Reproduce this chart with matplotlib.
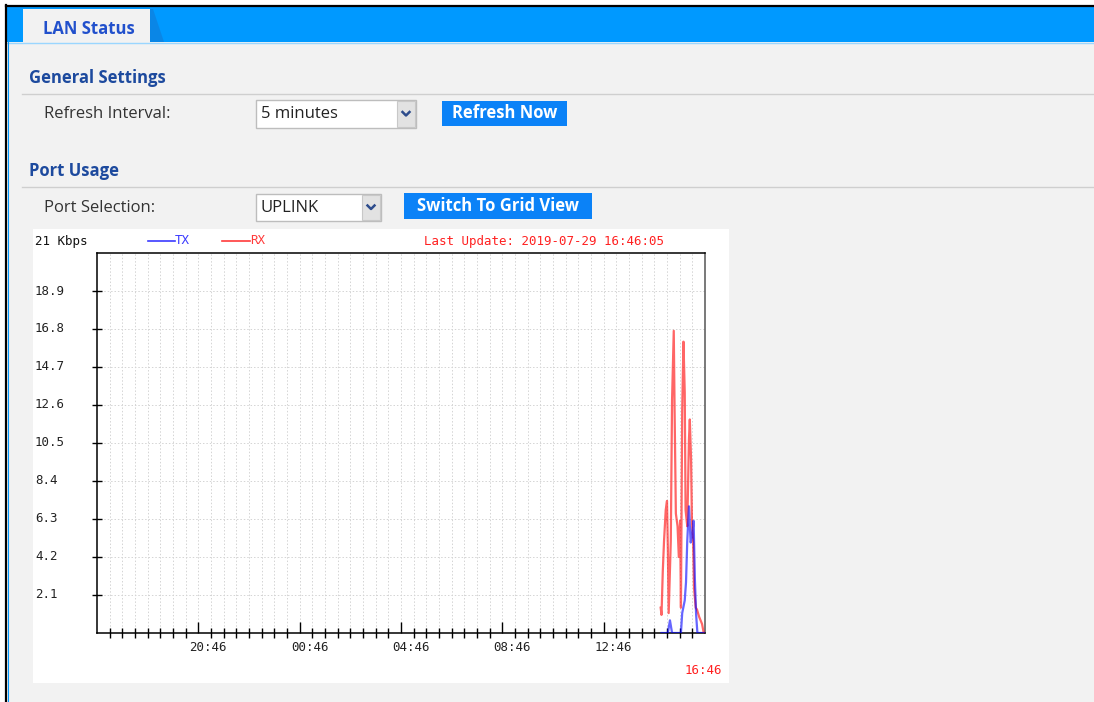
import matplotlib.pyplot as plt
from matplotlib.patches import Rectangle, Polygon
from matplotlib.transforms import ScaledTranslation, blended_transform_factory

# port usage samples: minutes after 16:46 on 2019-07-28, values in Kbps
rx_minutes = [1335, 1337, 1340, 1343, 1347, 1350, 1352, 1354, 1359, 1362,
              1366, 1368, 1371, 1375, 1378, 1381, 1383, 1386, 1389, 1392,
              1394, 1398, 1402, 1404, 1407, 1409, 1412, 1414, 1418, 1421,
              1426, 1433, 1437]
rx_kbps = [1.4, 1.0, 3.4, 5.1, 6.8, 7.3, 4.7, 1.1, 5.1, 12.9,
           16.7, 12.3, 6.6, 5.9, 4.2, 6.2, 1.4, 12.3, 16.1, 13.3,
           6.8, 5.9, 10.7, 11.8, 9.6, 6.2, 5.0, 2.5, 1.4, 1.3,
           0.9, 0.5, 0.0]

tx_minutes = [1337, 1352, 1357, 1362, 1383, 1386, 1392, 1395, 1398, 1402,
              1406, 1409, 1413, 1416, 1419, 1422, 1437]
tx_kbps = [0, 0, 0.7, 0, 0, 1.1, 1.8, 2.8, 5.1, 7.0,
           5.0, 5.3, 6.2, 3.0, 1.0, 0, 0]

y_ticks = [2.1, 4.2, 6.3, 8.4, 10.5, 12.6, 14.7, 16.8, 18.9]
y_max = 21
x_span = 1440                      # 24 hours
x_step = 30                        # grid every half hour
x_label_minutes = [240, 480, 720, 960, 1200]
x_labels = ['20:46', '00:46', '04:46', '08:46', '12:46']
last_label = '16:46'
last_update = 'Last Update: 2019-07-29 16:46:05'

W, H = 1094, 702
UI_FONT = 'Open Sans'
MONO = 'DejaVu Sans Mono'
HEAD_BLUE = '#1d4a9e'
BTN_BLUE = '#0b82f7'

fig = plt.figure(figsize=(W / 100, H / 100), dpi=100)
fig.patch.set_facecolor('white')

# ------------------------------------------------------------
# page chrome (pixel coordinates, y down)
# ------------------------------------------------------------
bg = fig.add_axes([0, 0, 1, 1])
bg.set_xlim(0, W)
bg.set_ylim(H, 0)
bg.axis('off')

bg.add_patch(Rectangle((7, 42), W, H, color='#f2f2f2', lw=0))
bg.add_patch(Rectangle((7, 7), W, 35, color='#0099ff', lw=0))
bg.plot([7, W], [42.5, 42.5], color='#9ad6ff', lw=1)
bg.plot([5.5, W], [5.5, 5.5], color='black', lw=1.6)
bg.plot([5.5, 5.5], [5, H], color='black', lw=1.6)
bg.plot([7.5, 7.5], [42, H], color='#0099ff', lw=0.8)

# tab
bg.add_patch(Polygon([(150, 9), (153, 9), (164, 42), (150, 42)], color='#0a86e6', lw=0))
bg.add_patch(Rectangle((23, 9), 127, 33, color='#f2f2f2', lw=0))
bg.text(43, 29, 'LAN Status', fontsize=12, fontweight='bold', color='#2150cc',
        family=UI_FONT, va='center', ha='left')


def section(y, title):
    bg.text(29, y, title, fontsize=12, fontweight='bold', color=HEAD_BLUE,
            family=UI_FONT, va='center', ha='left')
    bg.plot([22, W], [y + 15.5, y + 15.5], color='#cfcfcf', lw=1)


def dropdown(x0, x1, y0, y1, value):
    bg.add_patch(Rectangle((x0, y0), x1 - x0, y1 - y0, facecolor='white',
                           edgecolor='#bdbdbd', lw=1))
    bg.add_patch(Rectangle((x1 - 19, y0 + 1), 18, y1 - y0 - 2, facecolor='#e2e2e2',
                           edgecolor='#c8c8c8', lw=0.8))
    cx, cy = x1 - 10, (y0 + y1) / 2
    bg.plot([cx - 3.5, cx, cx + 3.5], [cy - 2, cy + 1.5, cy - 2], color='#2d4c8c', lw=1.8)
    bg.text(x0 + 5, (y0 + y1) / 2, value, fontsize=12, color='#222222',
            family=UI_FONT, va='center', ha='left')


def button(x0, x1, y0, y1, label):
    bg.add_patch(Rectangle((x0, y0), x1 - x0, y1 - y0, color=BTN_BLUE, lw=0))
    bg.text((x0 + x1) / 2, (y0 + y1) / 2, label, fontsize=12, fontweight='bold',
            color='white', family=UI_FONT, va='center', ha='center')


section(78, 'General Settings')
bg.text(44, 114, 'Refresh Interval:', fontsize=12, color='#333333',
        family=UI_FONT, va='center', ha='left')
dropdown(256, 416, 100, 128, '5 minutes')
button(442, 567, 101, 126, 'Refresh Now')

section(171, 'Port Usage')
bg.text(44, 208, 'Port Selection:', fontsize=12, color='#333333',
        family=UI_FONT, va='center', ha='left')
dropdown(256, 381, 194, 221, 'UPLINK')
button(404, 592, 193, 219, 'Switch To Grid View')

# white chart panel
bg.add_patch(Rectangle((33, 229), 696, 454, color='white', lw=0))

# chart header row
bg.text(35, 241, f'{y_max} Kbps', fontsize=9, family=MONO, color='#111111', va='center')
bg.plot([148, 175], [241, 241], color='#3b3bff', lw=1.2)
bg.text(175, 241, 'TX', fontsize=9, family=MONO, color='#3b3bff', va='center')
bg.plot([222, 250], [241, 241], color='#ff3b3b', lw=1.2)
bg.text(250, 241, 'RX', fontsize=9, family=MONO, color='#ff3b3b', va='center')
bg.text(424, 241, last_update, fontsize=9, family=MONO, color='#ff2020', va='center')
bg.text(703, 671, last_label, fontsize=9, family=MONO, color='#ff2020',
        va='center', ha='center')

# ------------------------------------------------------------
# traffic chart
# ------------------------------------------------------------
ax = fig.add_axes([97 / W, (H - 633) / H, 608 / W, 380 / H])
ax.set_facecolor('white')
ax.set_xlim(0, x_span)
ax.set_ylim(0, y_max)

grid_minutes = [m for m in range(x_step, x_span, x_step)]
for m in grid_minutes:
    ax.axvline(m, color='#d4d4d4', lw=0.7, ls=(0, (1.5, 2)), zorder=0)
for v in y_ticks:
    ax.axhline(v, color='#d4d4d4', lw=0.7, ls=(0, (1.5, 2)), zorder=0)

ax.plot(rx_minutes, rx_kbps, color='#ff0000', lw=1.6, alpha=0.6, zorder=3)
ax.plot(tx_minutes, tx_kbps, color='#0000ff', lw=1.6, alpha=0.6, zorder=4)

for side in ['left', 'bottom', 'top']:
    ax.spines[side].set_color('black')
    ax.spines[side].set_linewidth(1.1)
ax.spines['right'].set_color('#555555')
ax.spines['right'].set_linewidth(1.1)

ax.set_yticks(y_ticks)
ax.tick_params(axis='y', direction='inout', length=7, width=1, labelleft=False)

ax.set_xticks(x_label_minutes)
ax.set_xticklabels(x_labels, fontsize=9, family=MONO, color='#222222')
ax.set_xticks([m for m in grid_minutes if m not in x_label_minutes], minor=True)
ax.tick_params(axis='x', which='major', direction='in', length=8, width=1, pad=5.5)
ax.tick_params(axis='x', which='minor', direction='inout', length=7, width=1)
for lbl in ax.get_xticklabels():
    lbl.set_transform(lbl.get_transform() + ScaledTranslation(0.10, 0, fig.dpi_scale_trans))

ylab_tf = blended_transform_factory(bg.transData, ax.transData)
for v in y_ticks:
    ax.text(35, v, f'{v:.1f}', transform=ylab_tf, fontsize=9, family=MONO,
            color='#222222', va='center', ha='left', clip_on=False)

fig.savefig('out.png', dpi=100)
